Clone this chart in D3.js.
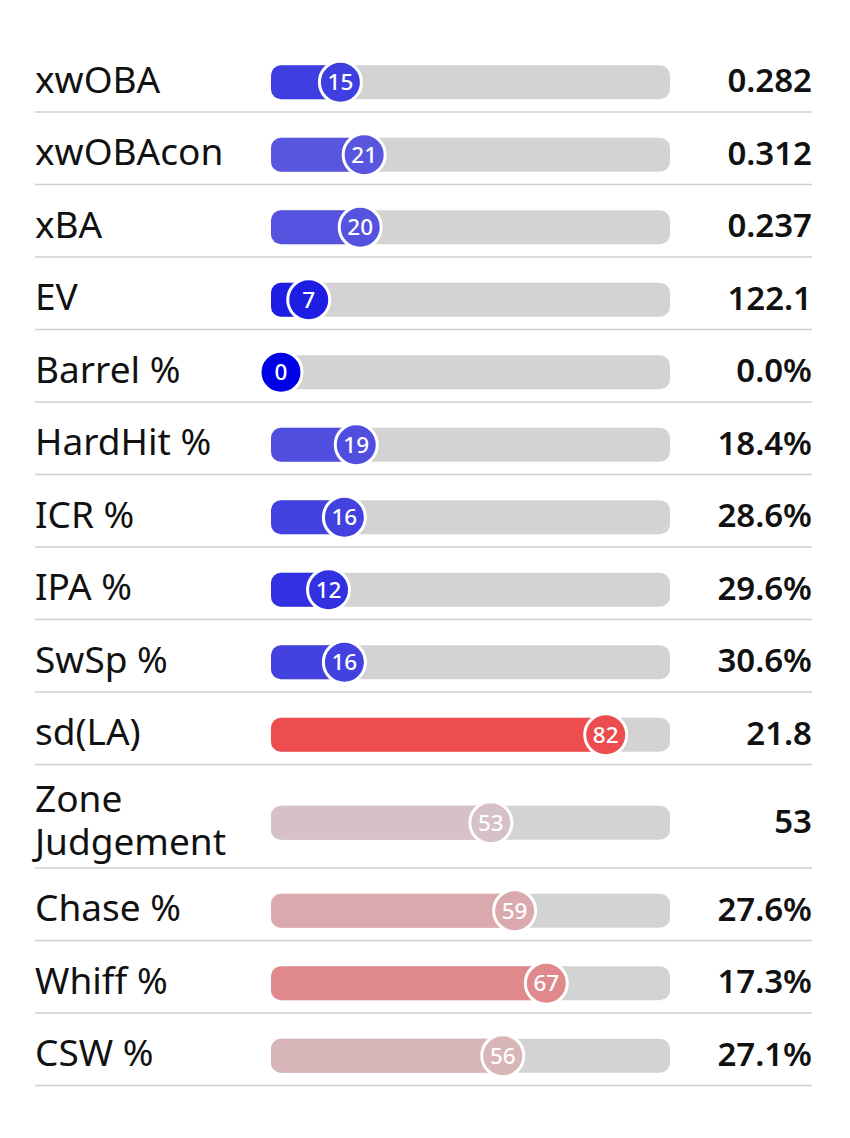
<!DOCTYPE html>
<html>
<head>
<meta charset="utf-8">
<script src="https://cdn.jsdelivr.net/npm/d3@7"></script>
<style>
  html, body { margin: 0; padding: 0; background: #fff; }
  svg { display: block; font-family: "Noto Sans", "Open Sans", sans-serif; }
</style>
</head>
<body>
<svg id="chart" width="850" height="1138"></svg>
<script>
// ---- data ----
const metrics = ["xwOBA", "xwOBAcon", "xBA", "EV", "Barrel %", "HardHit %", "ICR %", "IPA %", "SwSp %", "sd(LA)", "Zone Judgement", "Chase %", "Whiff %", "CSW %"];
const percentiles = [15, 21, 20, 7, 0, 19, 16, 12, 16, 82, 53, 59, 67, 56];
const statValues = ["0.282", "0.312", "0.237", "122.1", "0.0%", "18.4%", "28.6%", "29.6%", "30.6%", "21.8", "53", "27.6%", "17.3%", "27.1%"];

// ---- layout ----
const svg = d3.select("#chart");
const labelX = 35, valueX = 812, trackX0 = 271, trackX1 = 670;
const trackH = 34, trackR = 10, dotR = 21;
const top0 = 39.5, rowH = 72.5, extraLine = 31, labelMaxW = 240, lineGap = 43;
const labelFont = 37;

const x = d3.scaleLinear().domain([0, 100]).range([281, 677]);
const color = d3.scaleLinear().domain([0, 50, 100])
  .range(["rgb(0,0,230)", "rgb(210,205,210)", "rgb(252,5,5)"])
  .interpolate(d3.interpolateRgb);

// wrap labels by measuring
const measure = svg.append("text").attr("font-size", labelFont).attr("visibility", "hidden");
function wrap(label) {
  const words = label.split(" ");
  const lines = [];
  let cur = "";
  words.forEach(w => {
    const test = cur ? cur + " " + w : w;
    measure.text(test);
    if (cur && measure.node().getComputedTextLength() > labelMaxW) {
      lines.push(cur); cur = w;
    } else cur = test;
  });
  if (cur) lines.push(cur);
  return lines;
}
const rows = metrics.map((m, i) => ({ label: m, lines: wrap(m), pct: percentiles[i], value: statValues[i] }));
measure.remove();

let yTop = top0;
rows.forEach(r => {
  r.h = rowH + (r.lines.length - 1) * extraLine;
  r.top = yTop;
  r.cy = yTop + 6.5 + r.h / 2;
  yTop += r.h;
});

const g = svg.selectAll("g.row").data(rows).join("g").attr("class", "row");

// separators
g.append("line")
  .attr("x1", labelX).attr("x2", valueX)
  .attr("y1", d => d.top + d.h).attr("y2", d => d.top + d.h)
  .attr("stroke", "#cfcfcf").attr("stroke-width", 1.5);

// labels
g.append("text")
  .attr("x", labelX)
  .attr("font-size", labelFont)
  .attr("fill", "#111")
  .each(function(d) {
    const n = d.lines.length;
    d3.select(this).selectAll("tspan").data(d.lines).join("tspan")
      .attr("x", labelX)
      .attr("y", (l, j) => d.cy + 10.5 + (j - (n - 1) / 2) * lineGap)
      .text(l => l);
  });

// track
g.append("rect")
  .attr("x", trackX0).attr("width", trackX1 - trackX0)
  .attr("y", d => d.cy - trackH / 2).attr("height", trackH)
  .attr("rx", trackR).attr("fill", "#d3d3d3");

// fill
g.append("rect")
  .attr("x", trackX0)
  .attr("width", d => Math.max(0, x(d.pct) - trackX0))
  .attr("y", d => d.cy - trackH / 2).attr("height", trackH)
  .attr("rx", trackR).attr("fill", d => color(d.pct));

// dot
g.append("circle")
  .attr("cx", d => x(d.pct)).attr("cy", d => d.cy).attr("r", dotR)
  .attr("fill", d => color(d.pct))
  .attr("stroke", "#fff").attr("stroke-width", 3);

g.append("text")
  .attr("x", d => x(d.pct)).attr("y", d => d.cy + 8)
  .attr("text-anchor", "middle")
  .attr("font-size", 22.5).attr("font-weight", 500)
  .attr("fill", "#fff")
  .text(d => d.pct);

// values
g.append("text")
  .attr("x", valueX).attr("y", d => d.cy + 10)
  .attr("text-anchor", "end")
  .attr("font-size", 33).attr("font-weight", 650)
  .attr("fill", "#111")
  .text(d => d.value);
</script>
</body>
</html>
